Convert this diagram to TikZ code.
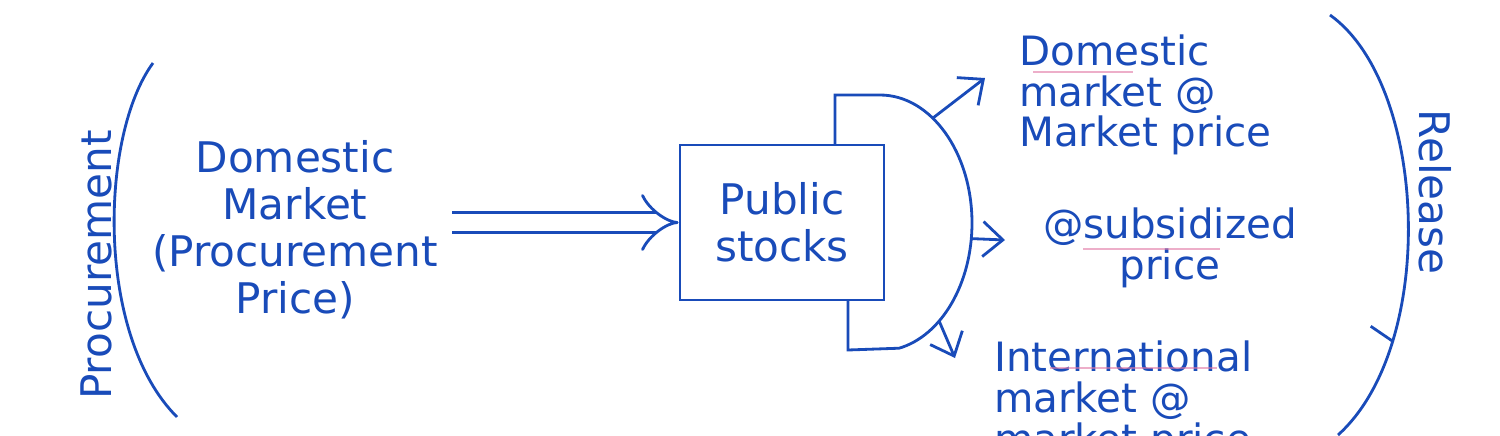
\documentclass[tikz,border=0pt]{standalone}
\usepackage{fontspec}
\setmainfont{DejaVu Sans}
\usetikzlibrary{arrows.meta}
\definecolor{inkblue}{RGB}{25,75,185}
\definecolor{redpen}{RGB}{225,120,165}
\begin{document}
\begin{tikzpicture}[ink/.style = {draw = inkblue, line width = 0.8pt},
hand/.style = {text = inkblue, font = \fontsize{12}{13.4}\selectfont, align = center, inner sep = 1pt},
tight/.style = {font = \fontsize{11.5}{11.6}\selectfont},
barb/.style = {-{Straight Barb[length = 2mm, width = 3.5mm]}},
penline/.style = {draw = redpen, line width = 0.6pt, opacity = 0.6}]
\useasboundingbox (0,0) rectangle (15,4.35);
\clip (0,0) rectangle (15,4.35);
\draw [ink] (1.53,3.72) .. controls (1.0,3.0) and (0.95,1.0) .. (1.77,0.18);
\node [hand, rotate = 90] (proc) at (0.96,1.70) {Procurement};
\node [hand] (dm) at (2.95,2.05) {Domestic\\Market\\(Procurement\\Price)};
\node [hand, ink, minimum width = 2.04cm, minimum height = 1.55cm] (ps) at (7.82,2.125) {Public\\stocks};
\draw [ink, double = white, double distance = 5pt, -{Implies}] ([xshift = 0.1cm]dm.east |- ps.west) -- (ps.west);
\draw [ink] (8.35,2.90) -- (8.35,3.40) -- (8.80,3.40) arc [start angle = 90, end angle = -78, x radius = 0.92, y radius = 1.28] -- (8.48,0.85) -- (8.48,1.35);
\coordinate (dc) at (8.80,2.12);
\coordinate (out1) at (9.85,3.57);
\coordinate (out2) at (10.05,1.95);
\coordinate (out3) at (9.55,0.77);
\foreach \a/\t in {55/out1, -7/out2, -50/out3}{
\draw [ink, barb] (dc) ++(\a:0.92 and 1.28) -- (\t);
}
\node [hand, tight, align = left, anchor = west] (r1) at (10.15,3.40) {Domestic\\market @\\Market price};
\node [hand, tight] (r2) at (11.7,1.87) {@subsidized\\price};
\node [hand, tight, align = left, anchor = north west] (r3) at (9.90,0.98) {International\\market @\\market price};
\draw [penline] (10.33,3.63) -- (11.33,3.63);
\draw [penline] (10.83,1.86) -- (12.20,1.86);
\draw [penline] (10.50,0.67) -- (12.17,0.67);
\draw [ink] (13.30,4.20) .. controls (14.28,3.5) and (14.38,0.9) .. (13.38,0) coordinate [pos = 0.75] (rb);
\draw [ink] (rb) -- ++(-0.22,0.15);
\node [hand, rotate = -90] (rel) at (14.35,2.43) {Release};
\end{tikzpicture}
\end{document}
